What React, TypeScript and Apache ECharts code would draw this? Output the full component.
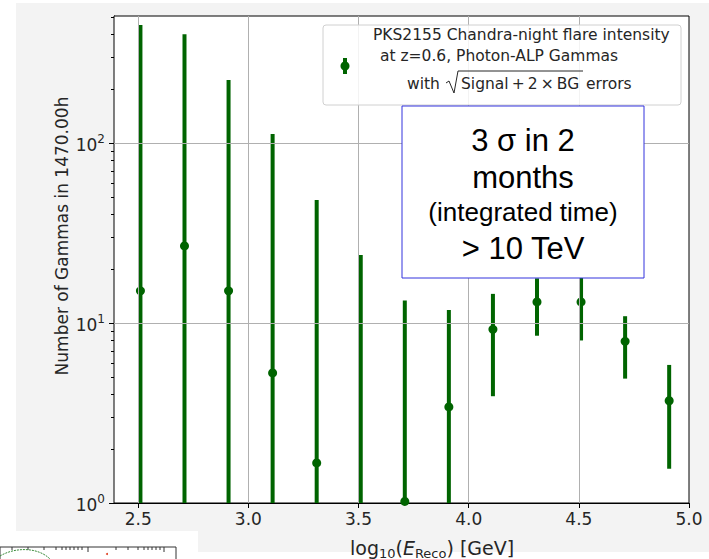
import React, { useEffect, useRef } from "react";
import * as echarts from "echarts";

// log10(E_Reco / GeV) bin centres
const energies = [2.51, 2.71, 2.91, 3.11, 3.31, 3.51, 3.71, 3.91, 4.11, 4.31, 4.51, 4.71, 4.91];
// Number of gammas in 1470.00h
const counts = [15.1, 26.8, 15.1, 5.28, 1.67, 0.5, 1.02, 3.42, 9.22, 13.1, 13.1, 7.91, 3.7];
// sqrt(Signal + 2 x BG) errors
const errors = [438, 376, 209, 107, 46.6, 23.4, 12.3, 8.4, 5.3, 4.6, 5.1, 3.0, 2.15];

const xTicks = [2.5, 3.0, 3.5, 4.0, 4.5, 5.0];
const yMajorTicks = [1, 10, 100];
const yMinorTicks = [2, 3, 4, 5, 6, 7, 8, 9, 20, 30, 40, 50, 60, 70, 80, 90, 200, 300, 400, 500];

const X_MIN = 2.39;
const X_MAX = 5.0;
const Y_MIN = 1;
const Y_MAX = 508;

const GREEN = "#006400";
const FONT = "DejaVu Sans";
const TXT = "#262626";

const withZ = (els: any[], z: number) => els.map((e) => ({ ...e, z, silent: true }));

export default function App() {
  const ref = useRef<HTMLDivElement>(null);

  useEffect(() => {
    if (!ref.current) return;
    const chart = echarts.init(ref.current, null, { renderer: "svg" });

    const errData = energies.map((x, i) => [x, Math.max(counts[i] - errors[i], 0.05), counts[i] + errors[i]]);
    const ptData = energies.map((x, i) => [x, counts[i]]);

    const inset = withZ(
      [
        { type: "rect", shape: { x: 0, y: 547, width: 176, height: 14 }, style: { fill: "#ffffff", stroke: "#333", lineWidth: 1 } },
        ...[12, 28, 44, 56, 62, 66, 70, 74, 78, 82, 88, 116, 128, 138, 144, 148, 152, 156, 160, 164].map((tx) => ({
          type: "line",
          shape: { x1: tx, y1: 547, x2: tx, y2: tx === 88 || tx === 164 ? 552 : 550 },
          style: { stroke: "#333", lineWidth: 1 },
        })),
        {
          type: "bezierCurve",
          shape: { x1: 0, y1: 556, cpx1: 15, cpy1: 547, cpx2: 38, cpy2: 547, x2: 50, y2: 559 },
          style: { stroke: "#3a8a3a", lineWidth: 1, lineDash: [2, 1], fill: null },
        },
        { type: "circle", shape: { cx: 107, cy: 554, r: 1 }, style: { fill: "#e04020" } },
      ],
      5
    );

    const LF = 15.5;
    const legend = withZ(
      [
        {
          type: "rect",
          shape: { x: 323, y: 25, width: 358, height: 80, r: 3 },
          style: { fill: "rgba(255,255,255,0.85)", stroke: "#d0d0d0", lineWidth: 1 },
        },
        { type: "line", shape: { x1: 345, y1: 58, x2: 345, y2: 74 }, style: { stroke: GREEN, lineWidth: 4 } },
        { type: "circle", shape: { cx: 345, cy: 66, r: 4.5 }, style: { fill: GREEN } },
        {
          type: "text",
          x: 373,
          y: 35,
          style: { text: "PKS2155 Chandra-night flare intensity", fontFamily: FONT, fontSize: LF, fill: TXT, verticalAlign: "middle" },
        },
        {
          type: "text",
          x: 375,
          y: 56,
          style: { text: " at z=0.6, Photon-ALP Gammas", fontFamily: FONT, fontSize: LF, fill: TXT, verticalAlign: "middle" },
        },
        {
          type: "text",
          x: 407,
          y: 84,
          style: { text: "with", fontFamily: FONT, fontSize: LF, fill: TXT, verticalAlign: "middle" },
        },
        {
          type: "polyline",
          shape: { points: [[446, 83], [449, 81], [454, 93], [458, 71], [583, 71]] },
          style: { stroke: TXT, lineWidth: 1, fill: null },
        },
        {
          type: "text",
          x: 461,
          y: 84,
          style: { text: "Signal\u2009+\u20092\u2009×\u2009BG", fontFamily: FONT, fontSize: LF, fill: TXT, verticalAlign: "middle" },
        },
        {
          type: "text",
          x: 586,
          y: 84,
          style: { text: "errors", fontFamily: FONT, fontSize: LF, fill: TXT, verticalAlign: "middle" },
        },
      ],
      20
    );

    const box = withZ(
      [
        {
          type: "rect",
          shape: { x: 402, y: 106, width: 242, height: 172 },
          style: { fill: "#ffffff", stroke: "#3333dd", lineWidth: 1 },
        },
        {
          type: "text",
          x: 523,
          y: 140,
          style: { text: "3 σ in 2", fontFamily: "Liberation Sans", fontSize: 31, fill: "#000", align: "center", verticalAlign: "middle" },
        },
        {
          type: "text",
          x: 523,
          y: 177,
          style: { text: "months", fontFamily: "Liberation Sans", fontSize: 31, fill: "#000", align: "center", verticalAlign: "middle" },
        },
        {
          type: "text",
          x: 523,
          y: 212,
          style: { text: "(integrated time)", fontFamily: "Liberation Sans", fontSize: 26, fill: "#000", align: "center", verticalAlign: "middle" },
        },
        {
          type: "text",
          x: 523,
          y: 248,
          style: { text: "> 10 TeV", fontFamily: "Liberation Sans", fontSize: 31, fill: "#000", align: "center", verticalAlign: "middle" },
        },
      ],
      30
    );

    const option: any = {
      animation: false,
      backgroundColor: "#ffffff",
      grid: {
        left: 114,
        top: 16,
        right: 20,
        bottom: 56,
        show: true,
        backgroundColor: "#ffffff",
        borderColor: "#000000",
        borderWidth: 1,
        z: 1,
      },
      xAxis: {
        type: "value",
        min: X_MIN,
        max: X_MAX,
        axisLine: { show: true, onZero: false, lineStyle: { color: "#000", width: 1 } },
        axisTick: { show: true, length: 5, customValues: xTicks, lineStyle: { color: "#000" } },
        axisLabel: {
          customValues: xTicks,
          formatter: (v: number) => v.toFixed(1),
          fontFamily: FONT,
          fontSize: 17,
          color: TXT,
          margin: 7,
        },
        splitLine: { show: false },
      },
      yAxis: [
        {
          type: "log",
          logBase: 10,
          min: Y_MIN,
          max: Y_MAX,
          axisLine: { show: true, lineStyle: { color: "#000", width: 1 } },
          axisTick: { show: true, length: 5, customValues: yMajorTicks, lineStyle: { color: "#000" } },
          axisLabel: {
            customValues: yMajorTicks,
            formatter: (v: number) => `{b|10}{s|${Math.round(Math.log10(v))}}`,
            margin: 9,
            rich: {
              b: { fontFamily: FONT, fontSize: 17, color: TXT, lineHeight: 20, verticalAlign: "bottom" },
              s: { fontFamily: FONT, fontSize: 12, color: TXT, lineHeight: 20, verticalAlign: "top", padding: [0, 0, 7, 0] },
            },
          },
          splitLine: { show: false },
          minorTick: { show: false },
        },
        {
          type: "log",
          logBase: 10,
          min: Y_MIN,
          max: Y_MAX,
          position: "left",
          axisLine: { show: false },
          axisTick: { show: true, length: 3, customValues: yMinorTicks, lineStyle: { color: "#000" } },
          axisLabel: { show: false },
          splitLine: { show: false },
        },
      ],
      series: [
        {
          type: "scatter",
          data: [],
          z: 1,
          silent: true,
          markLine: {
            silent: true,
            symbol: ["none", "none"],
            label: { show: false },
            lineStyle: { color: "#b0b0b0", width: 1, type: "solid" },
            data: [
              ...xTicks.slice(0, -1).map((v) => ({ xAxis: v })),
              ...yMajorTicks.slice(1).map((v) => ({ yAxis: v })),
            ],
          },
        },
        {
          type: "custom",
          clip: true,
          z: 3,
          silent: true,
          encode: { x: 0, y: [1, 2] },
          data: errData,
          renderItem: (params: any, api: any) => {
            const x = api.value(0);
            const p1 = api.coord([x, api.value(1)]);
            const p2 = api.coord([x, api.value(2)]);
            return {
              type: "line",
              shape: { x1: p1[0], y1: p1[1], x2: p2[0], y2: p2[1] },
              style: { stroke: GREEN, lineWidth: 4 },
            };
          },
        },
        {
          type: "scatter",
          clip: true,
          z: 4,
          silent: true,
          symbol: "circle",
          symbolSize: 9,
          itemStyle: { color: GREEN, opacity: 1 },
          data: ptData,
        },
      ],
      graphic: [
        // figure background (light grey) with the white cut-out at the bottom-left
        {
          type: "polygon",
          z: -10,
          silent: true,
          shape: {
            points: [
              [16, 3],
              [709, 3],
              [709, 552],
              [198, 552],
              [198, 531],
              [16, 531],
            ],
          },
          style: { fill: "#f3f3f3" },
        },
        ...inset,
        // y-axis title
        {
          type: "text",
          x: 62,
          y: 236,
          rotation: Math.PI / 2,
          silent: true,
          style: {
            text: "Number of Gammas in 1470.00h",
            fontFamily: FONT,
            fontSize: 17,
            fill: TXT,
            align: "center",
            verticalAlign: "middle",
          },
        },
        // x-axis title
        {
          type: "text",
          x: 350,
          y: 546,
          silent: true,
          style: {
            text: "{n|log}{sub|10}{n|(}{it|E}{sub|Reco}{n|) [GeV]}",
            fill: TXT,
            verticalAlign: "middle",
            rich: {
              n: { fontFamily: FONT, fontSize: 19, fill: TXT, lineHeight: 22, verticalAlign: "bottom" },
              it: { fontFamily: FONT, fontSize: 19, fontStyle: "italic", fill: TXT, lineHeight: 22, verticalAlign: "bottom" },
              sub: { fontFamily: FONT, fontSize: 13, fill: TXT, lineHeight: 22, verticalAlign: "bottom", padding: [0, 0, -3, 0] },
            },
          },
        },
        ...legend,
        ...box,
      ],
    };

    chart.setOption(option);
    return () => chart.dispose();
  }, []);

  return <div ref={ref} style={{ width: 709, height: 559, position: "absolute", left: 0, top: 0 }} />;
}
